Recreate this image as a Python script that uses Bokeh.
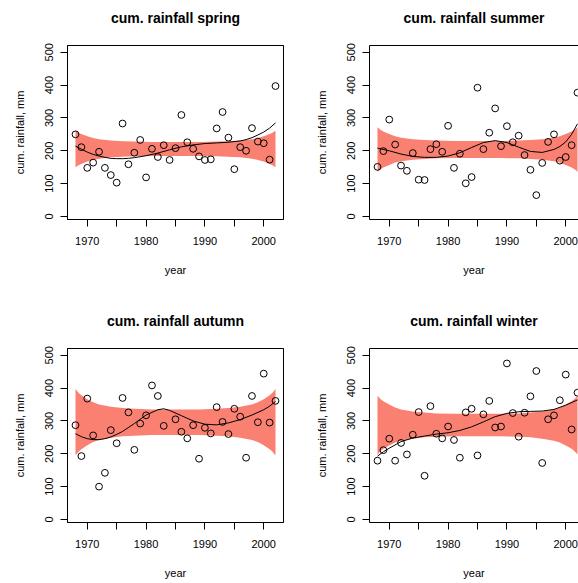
from bokeh.plotting import figure
from bokeh.layouts import column, row
from bokeh.models import FixedTicker, Range1d, LinearAxis
from bokeh.embed import file_html
from bokeh.resources import INLINE

nan = float("nan")

# ---------------- data ----------------
years = list(range(1968, 2003))

spring = [250, 211, 148, 164, 197, 148, 126, 103, 283, 159, 194, 233, 119, 206, 181, 217,
          172, 208, 309, 226, 206, 183, 172, 174, 268, 318, 240, 144, 211, 200, 269, 228,
          223, 173, 397]
summer = [151, 199, 295, 219, 155, 139, 193, 112, 111, 205, 220, 197, 276, 148, 191, 101,
          120, 392, 205, 255, 329, 214, 275, 226, 246, 187, 142, 65, 163, 227, 250, 170,
          181, 217, 377]
autumn = [287, 193, 368, 256, 100, 142, 272, 232, 370, 326, 212, 292, 317, 408, 376, 285,
          nan, 305, 267, 247, 287, 185, 279, 262, 342, 297, 260, 337, 313, 188, 376, 296,
          444, 295, 361]
winter = [179, 211, 246, 179, 233, 198, 258, 327, 133, 345, 261, 247, 283, 242, 188, 326,
          337, 195, 320, 361, 280, 283, 475, 324, 252, 325, 375, 452, 172, 305, 317, 363,
          441, 274, 386]

# smooth trend curves
spring_fit_years = [1968, 1969, 1970, 1971, 1972, 1973, 1974, 1975, 1976, 1977, 1978, 1980,
                    1982, 1984, 1986, 1988, 1990, 1992, 1994, 1996, 1997, 1998, 1999, 2000,
                    2001, 2002]
spring_fit = [214, 205, 196, 189, 184, 180, 177, 176, 176, 177, 179, 185, 193, 203, 212,
              218, 222, 224, 226, 230, 234, 240, 248, 257, 269, 285]

summer_fit_years = [1968, 1970, 1972, 1974, 1976, 1978, 1980, 1982, 1984, 1986, 1988, 1990,
                    1992, 1994, 1996, 1998, 1999, 2000, 2001, 2002]
summer_fit = [208, 200, 190, 183, 180, 180, 184, 194, 210, 225, 231, 225, 211, 198, 195,
              204, 213, 227, 250, 282]

autumn_fit_years = [1968, 1969, 1970, 1971, 1972, 1973, 1974, 1975, 1976, 1978, 1980, 1982,
                    1983, 1984, 1986, 1988, 1990, 1992, 1994, 1996, 1998, 2000, 2001, 2002]
autumn_fit = [261, 252, 246, 243, 243, 246, 251, 259, 268, 292, 318, 334, 337, 332, 316,
              300, 290, 288, 294, 304, 318, 334, 345, 359]

winter_fit_years = [1968, 1969, 1970, 1972, 1974, 1976, 1978, 1980, 1982, 1984, 1986, 1988,
                    1990, 1992, 1994, 1996, 1998, 2000, 2002]
winter_fit = [193, 206, 217, 237, 248, 254, 260, 264, 271, 282, 297, 313, 323, 328, 329,
              330, 335, 348, 364]

# reference envelope (upper / lower bounds)
band_years = [1968, 1968.5, 1969, 1970, 1971, 1972, 1974, 1976, 1978, 1981, 1985, 1989,
              1992, 1994, 1996, 1998, 1999, 2000, 2001, 2001.5, 2002]
spring_upper = [261, 255, 251, 244, 239, 235, 231, 229, 228, 227, 227, 227, 228, 229, 231,
                235, 239, 244, 251, 255, 261]
spring_lower = [150, 156, 160, 167, 172, 176, 180, 182, 183, 184, 184, 184, 183, 182, 180,
                176, 172, 167, 160, 156, 150]
summer_upper = [272, 264, 259, 251, 244, 240, 235, 233, 231, 230, 230, 230, 231, 233, 235,
                240, 244, 251, 259, 264, 272]
summer_lower = [136, 144, 149, 157, 164, 168, 173, 175, 177, 178, 178, 178, 177, 175, 173,
                168, 164, 157, 149, 144, 136]
autumn_upper = [397, 386, 378, 366, 357, 350, 343, 339, 337, 335, 335, 335, 337, 339, 343,
                350, 357, 366, 378, 386, 397]
autumn_lower = [195, 206, 214, 226, 236, 242, 249, 253, 255, 257, 257, 257, 255, 253, 249,
                242, 236, 226, 214, 206, 195]
winter_upper = [377, 367, 360, 350, 341, 335, 329, 326, 323, 322, 322, 322, 323, 326, 329,
                335, 341, 350, 360, 367, 377]
winter_lower = [198, 208, 215, 225, 234, 240, 246, 250, 252, 253, 253, 253, 252, 250, 246,
                240, 234, 225, 215, 208, 198]

x_ticks = [1970, 1975, 1980, 1985, 1990, 1995, 2000]
x_tick_labels = {1975: "", 1985: "", 1995: ""}
y_ticks = [0, 100, 200, 300, 400, 500]

titles = ["cum. rainfall spring", "cum. rainfall summer",
          "cum. rainfall autumn", "cum. rainfall winter"]

FONT = "Liberation Sans"
BAND = "#FA8072"
X0, X1 = 1966.64, 2003.36
Y0, Y1 = -9.2, 520.5
PX_PER_YEAR = 216 / (X1 - X0)


def make_panel(title, vals, fx, fy, up, lo, right_col, bottom_row):
    w = 276 if right_col else 302
    h = 281 if bottom_row else 302
    top = 46 if bottom_row else 45
    bottom = h - top - 174
    frame_w = w - 67 - (0 if right_col else 19)
    x_end = X0 + frame_w / PX_PER_YEAR
    p = figure(width=w, height=h, output_backend="svg", toolbar_location=None,
               x_range=Range1d(X0, x_end), y_range=Range1d(Y0, Y1),
               min_border_left=67, min_border_right=(0 if right_col else 19),
               min_border_top=top, min_border_bottom=bottom,
               x_axis_label="year", y_axis_label="cum. rainfall, mm")
    p.grid.visible = False
    p.background_fill_color = "white"
    p.border_fill_color = "white"
    if right_col:
        p.outline_line_color = None
    else:
        p.outline_line_color = "black"
        p.outline_line_alpha = 1.0

    for ax in p.axis:
        ax.axis_line_color = "black"
        ax.major_tick_line_color = "black"
        ax.major_tick_out = 7
        ax.major_tick_in = 0
        ax.minor_tick_line_color = None
        ax.major_label_text_font = FONT
        ax.major_label_text_font_size = "11px"
        ax.major_label_text_color = "black"
        ax.axis_label_text_font = FONT
        ax.axis_label_text_font_size = "11px"
        ax.axis_label_text_font_style = "normal"
        ax.axis_label_text_color = "black"

    p.xaxis.ticker = FixedTicker(ticks=x_ticks)
    p.xaxis.major_label_overrides = x_tick_labels
    p.xaxis.major_label_standoff = 10
    p.xaxis.axis_label_standoff = 16
    p.yaxis.ticker = FixedTicker(ticks=y_ticks)
    p.yaxis.major_label_orientation = "vertical"
    p.yaxis.major_label_standoff = 7
    p.yaxis.axis_label_standoff = 17

    # top axis: draws the top edge of the box and carries the panel title,
    # centred over the full (uncropped) box
    top_axis = LinearAxis(ticker=FixedTicker(ticks=[]), bounds=(X0, X1),
                          axis_line_color="black", axis_line_width=1,
                          major_tick_line_color=None, minor_tick_line_color=None,
                          major_tick_out=0, major_tick_in=0, minor_tick_out=0,
                          minor_tick_in=0, major_label_standoff=0,
                          major_label_text_font_size="0px",
                          axis_label=title, axis_label_standoff=20,
                          axis_label_text_font=FONT, axis_label_text_font_size="14px",
                          axis_label_text_font_style="bold",
                          axis_label_text_color="black")
    p.add_layout(top_axis, "above")

    p.varea(x=band_years, y1=lo, y2=up, fill_color=BAND, fill_alpha=1.0)
    p.line(fx, fy, line_color="black", line_width=1)
    p.scatter(years, vals, marker="circle", size=6.8, fill_color=None,
              line_color="black", line_width=1)
    return p


p1 = make_panel(titles[0], spring, spring_fit_years, spring_fit, spring_upper, spring_lower, False, False)
p2 = make_panel(titles[1], summer, summer_fit_years, summer_fit, summer_upper, summer_lower, True, False)
p3 = make_panel(titles[2], autumn, autumn_fit_years, autumn_fit, autumn_upper, autumn_lower, False, True)
p4 = make_panel(titles[3], winter, winter_fit_years, winter_fit, winter_upper, winter_lower, True, True)

layout = column(row(p1, p2), row(p3, p4))
open("out.html", "w").write(file_html(layout, INLINE))
